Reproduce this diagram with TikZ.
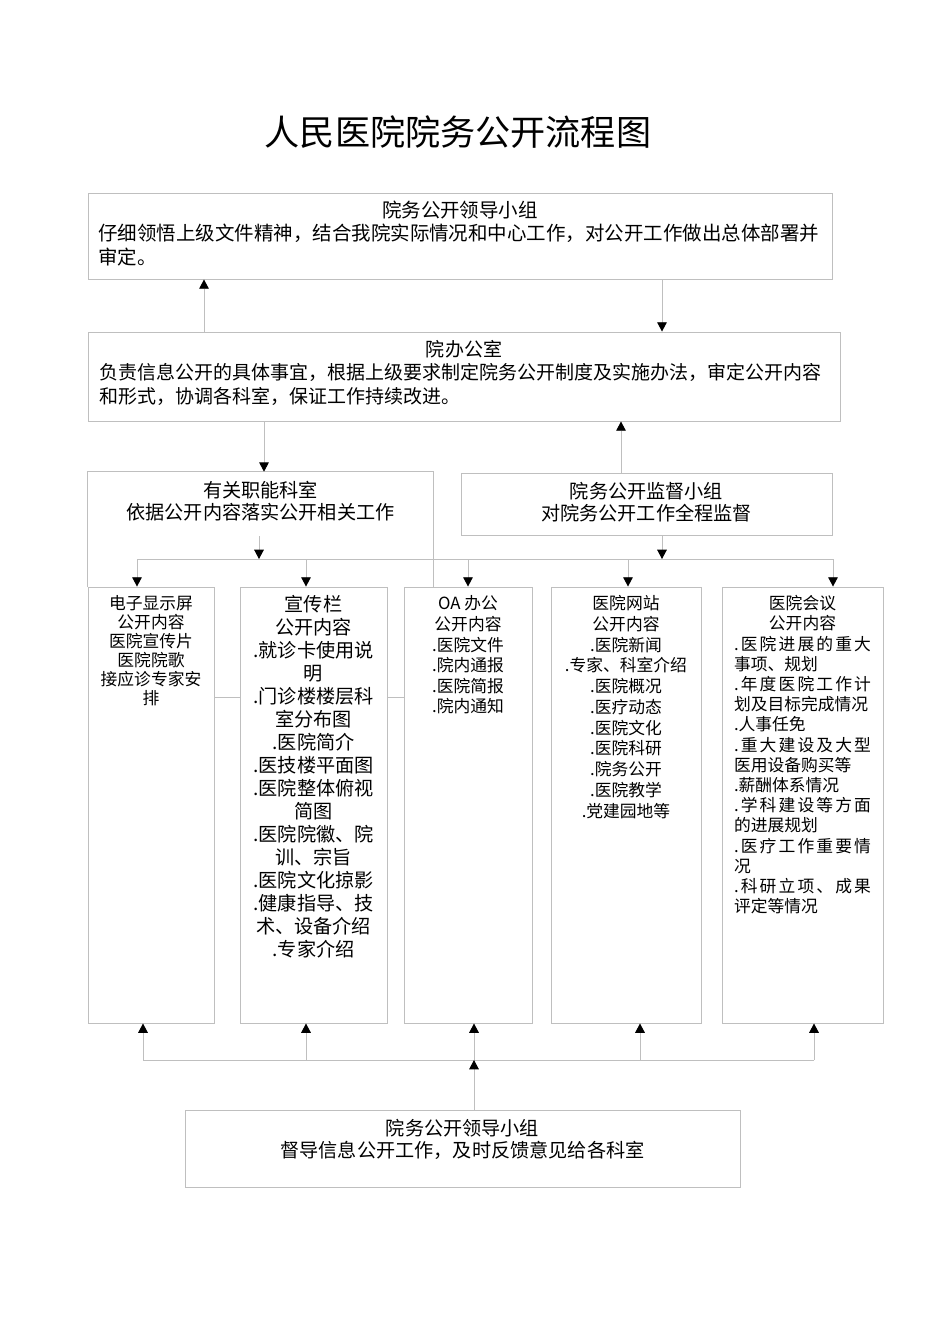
\documentclass[tikz,border=0pt]{standalone}
\usepackage{fontspec}
\setmainfont{Noto Sans CJK SC}
\usetikzlibrary{positioning}
\usetikzlibrary{fit}
\usetikzlibrary{arrows.meta}
\makeatletter
% one line spread to the full width of the last column
\newcommand\jline[1]{\makebox[85.8pt][s]{\jl@first#1\@nil}}
\def\jl@first#1{#1\jl@next}
\def\jl@next#1{\ifx#1\@nil\else\hfill#1\expandafter\jl@next\fi}
\newcommand\lline[1]{\makebox[85.8pt][l]{#1}}
\makeatother
\tikzset{
	line/.style={
		draw=gray!50,
		line width=0.6pt},
	arr/.style={
		line,
		-{Triangle[length=5.8pt,width=6pt,color=black]}},
	box/.style={
		draw=gray!50,
		line width=0.6pt,
		inner sep=0pt},
	boxtext/.style={
		inner sep=0pt,
		font=\fontsize{#1}{14.5pt}\selectfont},
	midtext/.style={
		inner sep=0pt,
		align=center,
		font=\fontsize{12pt}{14pt}\selectfont},
	coltext/.style={
		inner sep=0pt,
		align=center,
		font=\fontsize{10.5pt}{#1}\selectfont}
}
\begin{document}
\begin{tikzpicture}[x=0.6263pt, y=-0.6263pt]
	\useasboundingbox (0,0) rectangle (950,1344);
	\node[font=\fontsize{22pt}{26pt}\selectfont] (title) at (458,132) {人民医院院务公开流程图};
	% boxes
	\node[box, fit={(88,193) (832,279)}] (lead) {};
	\node[box, fit={(88,332) (840,421)}] (office) {};
	\node[inner sep=0pt, fit={(88,472) (433,587)}] (duty) {};
	\node[box, fit={(461,473) (832,535)}] (watch) {};
	\node[box, fit={(88,587) (214,1023)}] (c1) {};
	\node[box, fit={(240,587) (387,1023)}] (c2) {};
	\node[box, fit={(404,587) (532,1023)}] (c3) {};
	\node[box, fit={(551,587) (701,1023)}] (c4) {};
	\node[box, fit={(722,587) (883,1023)}] (c5) {};
	\node[box, fit={(185,1110) (740,1187)}] (guide) {};
	\draw[line] (duty.south west) -- (duty.north west) -- (duty.north east) -- (duty.south east);
	% texts
	\node[boxtext=12.2pt, below=5.3pt of lead.north, text width=453pt, align=left] (leadtext)
		{\makebox[453pt]{院务公开领导小组}\\仔细领悟上级文件精神，结合我院实际情况和中心工作，对公开工作做出总体部署并\\审定。};
	\node[boxtext=11.9pt, below=5.5pt of office.north, text width=456pt, align=left] (officetext)
		{\makebox[456pt]{院办公室}\\负责信息公开的具体事宜，根据上级要求制定院务公开制度及实施办法，审定公开内容\\和形式，协调各科室，保证工作持续改进。};
	\node[midtext, below=5.8pt of duty.north] (dutytext) {有关职能科室\\依据公开内容落实公开相关工作};
	\node[midtext, below=5.8pt of watch.north] (watchtext) {院务公开监督小组\\对院务公开工作全程监督};
	\node[midtext, below=5.8pt of guide.north] (guidetext) {院务公开领导小组\\督导信息公开工作，及时反馈意见给各科室};
	\node[coltext=11.9pt, below=5.6pt of c1.north] (t1)
		{电子显示屏\\公开内容\\医院宣传片\\医院院歌\\接应诊专家安\\排};
	\node[coltext=14.4pt, font=\fontsize{12pt}{14.4pt}\selectfont, below=5.4pt of c2.north] (t2)
		{宣传栏\\公开内容\\.就诊卡使用说\\明\\.门诊楼楼层科\\室分布图\\.医院简介\\.医技楼平面图\\.医院整体俯视\\简图\\.医院院徽、院\\训、宗旨\\.医院文化掠影\\.健康指导、技\\术、设备介绍\\.专家介绍};
	\node[coltext=12.9pt, below=5.6pt of c3.north] (t3)
		{OA 办公\\公开内容\\.医院文件\\.院内通报\\.医院简报\\.院内通知};
	\node[coltext=13pt, below=5.4pt of c4.north] (t4)
		{医院网站\\公开内容\\.医院新闻\\.专家、科室介绍\\.医院概况\\.医疗动态\\.医院文化\\.医院科研\\.院务公开\\.医院教学\\.党建园地等};
	\node[coltext=12.65pt, below=5.4pt of c5.north] (t5)
		{医院会议\\公开内容\\\jline{.医院进展的重大}\\\lline{事项、规划}\\\jline{.年度医院工作计}\\\lline{划及目标完成情况}\\\lline{.人事任免}\\\jline{.重大建设及大型}\\\lline{医用设备购买等}\\\lline{.薪酬体系情况}\\\jline{.学科建设等方面}\\\lline{的进展规划}\\\jline{.医疗工作重要情}\\\lline{况}\\\jline{.科研立项、成果}\\\lline{评定等情况}};
	% connectors
	\coordinate (up1) at (204,0);
	\coordinate (dn1) at (662,0);
	\coordinate (dn2) at (264,0);
	\coordinate (up2) at (621,0);
	\draw[arr] (office.north -| up1) -- (lead.south -| up1);
	\draw[arr] (lead.south -| dn1) -- (office.north -| dn1);
	\draw[arr] (office.south -| dn2) -- (duty.north -| dn2);
	\draw[arr] (watch.north -| up2) -- (office.south -| up2);
	\foreach \i/\x in {1/137,2/306,3/468,4/628,5/833}
		\coordinate (in\i) at (\x,559);
	\foreach \i/\x in {1/143,2/306,3/474,4/640,5/814}
		\coordinate (out\i) at (\x,1060);
	\coordinate (dutyout) at (259,536);
	\draw[arr] (dutyout) -- (dutyout |- in1);
	\draw[arr] (watch.south -| dn1) -- (dn1 |- in1);
	\draw[line] (in1) -- (in5);
	\foreach \i in {1,...,5}
		\draw[arr] (in\i) -- (in\i |- c\i.north);
	\draw[line] (out1) -- (out5);
	\foreach \i in {1,...,5}
		\draw[arr] (out\i) -- (out\i |- c\i.south);
	\draw[arr] (guide.north -| out3) -- (out3);
	\coordinate (side) at (0,697);
	\draw[line] (c1.east |- side) -- (c2.west |- side);
	\draw[line] (c2.east |- side) -- (c3.west |- side);
\end{tikzpicture}
\end{document}
